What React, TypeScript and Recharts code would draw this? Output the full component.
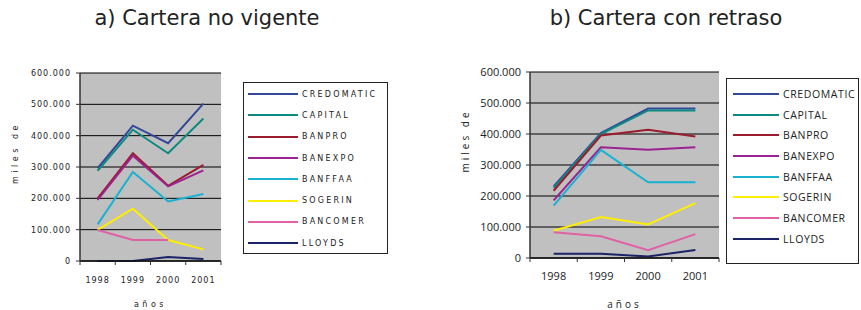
import { LineChart, Line, XAxis, YAxis, CartesianGrid } from 'recharts';

const years = ['1998', '1999', '2000', '2001'];
const banks = ['CREDOMATIC', 'CAPITAL', 'BANPRO', 'BANEXPO', 'BANFFAA', 'SOGERIN', 'BANCOMER', 'LLOYDS'];
const bankColors = ['#34489a', '#0b8a80', '#9b1c2e', '#9a2390', '#19b2d2', '#ffee00', '#e061a4', '#1c2266'];
const yTicks = [0, 100000, 200000, 300000, 400000, 500000, 600000];

// a) Cartera no vigente
const noVigCredomatic = [296000, 432000, 376000, 502000];
const noVigCapital = [288000, 419000, 344000, 455000];
const noVigBanpro = [200000, 344000, 240000, 307000];
const noVigBanexpo = [195000, 336000, 238000, 289000];
const noVigBanffaa = [117000, 284000, 190000, 214000];
const noVigSogerin = [99000, 167000, 67000, 37000];
const noVigBancomer = [99000, 67000, 67000, null];
const noVigLloyds = [0, 0, 13000, 6000];

// b) Cartera con retraso
const retCredomatic = [231000, 403000, 482000, 482000];
const retCapital = [226000, 400000, 476000, 476000];
const retBanpro = [217000, 395000, 414000, 392000];
const retBanexpo = [186000, 357000, 349000, 357000];
const retBanffaa = [169000, 349000, 244000, 244000];
const retSogerin = [88000, 132000, 108000, 177000];
const retBancomer = [83000, 70000, 25000, 77000];
const retLloyds = [14000, 14000, 5000, 26000];

const noVigSeries = [noVigCredomatic, noVigCapital, noVigBanpro, noVigBanexpo, noVigBanffaa, noVigSogerin, noVigBancomer, noVigLloyds];
const retSeries = [retCredomatic, retCapital, retBanpro, retBanexpo, retBanffaa, retSogerin, retBancomer, retLloyds];

const buildRows = (series: (number | null)[][]) =>
  years.map((year, i) => {
    const row: Record<string, string | number | null> = { year };
    banks.forEach((b, j) => {
      row[b] = series[j][i];
    });
    return row;
  });

const fmtThousands = (v: number) => (v === 0 ? '0' : `${Math.round(v / 1000)}.000`);

interface ChartStyle {
  font: string;
  tickSize: number;
  tickSpacing: number;
  labelSize: number;
  labelSpacing: number;
}

const YearTick = (props: any) => {
  const { x, y, payload, index, half, st } = props;
  return (
    <g>
      <line x1={x - half} y1={y} x2={x - half} y2={y + 4} stroke="#333" />
      {index === years.length - 1 && <line x1={x + half} y1={y} x2={x + half} y2={y + 4} stroke="#333" />}
      <text
        x={x}
        y={y + 22}
        textAnchor="middle"
        fill="#222"
        style={{ fontFamily: st.font, fontSize: st.tickSize, letterSpacing: st.tickSpacing }}
      >
        {payload.value}
      </text>
    </g>
  );
};

const AxisCaption = (props: any) => {
  const { viewBox, text, dx, dy, vertical, st } = props;
  const style = { fontFamily: st.font, fontSize: st.labelSize, letterSpacing: st.labelSpacing };
  if (vertical) {
    const cx = viewBox.x + dx;
    const cy = viewBox.y + viewBox.height / 2 + dy;
    return (
      <text x={cx} y={cy} textAnchor="middle" dominantBaseline="central" fill="#222" transform={`rotate(-90 ${cx} ${cy})`} style={style}>
        {text}
      </text>
    );
  }
  return (
    <text x={viewBox.x + viewBox.width / 2 + dx} y={viewBox.y + dy} textAnchor="middle" fill="#222" style={style}>
      {text}
    </text>
  );
};

interface PanelProps {
  series: (number | null)[][];
  left: number;
  width: number;
  top: number;
  rightMargin: number;
  yAxisWidth: number;
  xAxisHeight: number;
  plotWidth: number;
  st: ChartStyle;
  yLabelDx: number;
  yLabelDy: number;
  xLabelDy: number;
}

const Panel = ({ series, left, width, top, rightMargin, yAxisWidth, xAxisHeight, plotWidth, st, yLabelDx, yLabelDy, xLabelDy }: PanelProps) => {
  const data = buildRows(series);
  const half = plotWidth / 8;
  return (
    <div style={{ position: 'absolute', left, top: 0 }}>
      <LineChart width={width} height={310} data={data} margin={{ top, right: rightMargin, bottom: 0, left: 0 }}>
        <CartesianGrid vertical={false} fill="#c0c0c0" stroke="#000" strokeOpacity={1} />
        <XAxis
          dataKey="year"
          height={xAxisHeight}
          padding={{ left: half, right: half }}
          axisLine={{ stroke: '#111', strokeWidth: 1.5 }}
          tickLine={false}
          tickSize={0}
          tickMargin={0}
          interval={0}
          tick={(p: any) => <YearTick {...p} half={half} st={st} />}
          label={<AxisCaption text="años" dx={0} dy={xLabelDy} st={st} />}
        />
        <YAxis
          width={yAxisWidth}
          domain={[0, 600000]}
          ticks={yTicks}
          interval={0}
          tickFormatter={fmtThousands}
          tickSize={4}
          tickMargin={5}
          axisLine={{ stroke: '#333', strokeWidth: 1.5 }}
          tickLine={{ stroke: '#333' }}
          tick={{ fill: '#222', fontFamily: st.font, fontSize: st.tickSize, letterSpacing: st.tickSpacing }}
          label={<AxisCaption text="miles de" vertical dx={yLabelDx} dy={yLabelDy} st={st} />}
        />
        <YAxis yAxisId="edge" orientation="right" width={0} tick={false} tickLine={false} axisLine={{ stroke: '#808080', strokeWidth: 2 }} />
        {banks.map((b, i) => (
          <Line
            key={b}
            dataKey={b}
            stroke={bankColors[i]}
            strokeWidth={2}
            dot={false}
            activeDot={false}
            isAnimationActive={false}
          />
        ))}
      </LineChart>
    </div>
  );
};

interface LegendProps {
  left: number;
  top: number;
  width: number;
  height: number;
  rowH: number;
  padTop: number;
  swatchLeft: number;
  swatchW: number;
  font: string;
  size: number;
  spacing: number;
}

const LegendBox = ({ left, top, width, height, rowH, padTop, swatchLeft, swatchW, font, size, spacing }: LegendProps) => (
  <div
    style={{
      position: 'absolute',
      left,
      top,
      width,
      height,
      border: '1px solid #222',
      boxSizing: 'border-box',
      paddingTop: padTop,
      background: '#fff',
    }}
  >
    {banks.map((b, i) => (
      <div key={b} style={{ height: rowH, display: 'flex', alignItems: 'center' }}>
        <div style={{ marginLeft: swatchLeft, width: swatchW, height: 2, background: bankColors[i] }} />
        <span style={{ marginLeft: 4, fontFamily: font, fontSize: size, letterSpacing: spacing, color: '#222', whiteSpace: 'nowrap' }}>
          {b}
        </span>
      </div>
    ))}
  </div>
);

const leftStyle: ChartStyle = { font: '"DejaVu Sans", sans-serif', tickSize: 8, tickSpacing: 1, labelSize: 8, labelSpacing: 3.5 };
const rightStyle: ChartStyle = { font: '"Open Sans", sans-serif', tickSize: 11, tickSpacing: 0, labelSize: 10, labelSpacing: 3 };

const titleStyle = {
  position: 'absolute' as const,
  top: 4,
  fontFamily: '"DejaVu Sans", sans-serif',
  fontSize: 21,
  lineHeight: '28px',
  color: '#222',
  textAlign: 'center' as const,
  width: 400,
};

export default function App() {
  return (
    <div style={{ position: 'absolute', left: 0, top: 0, width: 861, height: 310, background: '#fff', overflow: 'hidden' }}>
      <div style={{ ...titleStyle, left: 207 - 200 }}>a) Cartera no vigente</div>
      <div style={{ ...titleStyle, left: 666 - 200 }}>b) Cartera con retraso</div>
      <Panel
        series={noVigSeries}
        left={0}
        width={430}
        top={73}
        rightMargin={209}
        yAxisWidth={80}
        xAxisHeight={49}
        plotWidth={141}
        st={leftStyle}
        yLabelDx={15}
        yLabelDy={-14}
        xLabelDy={46}
      />
      <Panel
        series={retSeries}
        left={430}
        width={431}
        top={72}
        rightMargin={142}
        yAxisWidth={100}
        xAxisHeight={52}
        plotWidth={189}
        st={rightStyle}
        yLabelDx={35}
        yLabelDy={-24}
        xLabelDy={50}
      />
      <LegendBox left={243} top={82} width={145} height={172} rowH={21.3} padTop={0.5} swatchLeft={4} swatchW={50} font='"DejaVu Sans", sans-serif' size={8} spacing={2.2} />
      <LegendBox left={726} top={78} width={133} height={186} rowH={20.7} padTop={4.6} swatchLeft={6} swatchW={46} font='"Open Sans", sans-serif' size={10.5} spacing={0.6} />
    </div>
  );
}
